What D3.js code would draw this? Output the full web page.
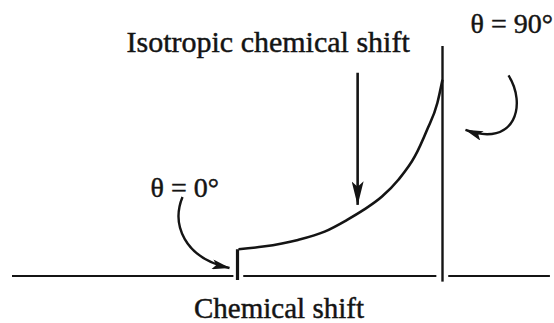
<!DOCTYPE html>
<html>
<head>
<meta charset="utf-8">
<script src="https://cdn.jsdelivr.net/npm/d3@7"></script>
<style>
  html, body { margin: 0; padding: 0; background: #fff; }
  svg { display: block; }
  text { font-family: "Liberation Serif", "Times New Roman", serif; fill: #141414; stroke: #141414; stroke-width: 0.45px; }
</style>
</head>
<body>
<script>
// Axially symmetric chemical-shift powder pattern (arbitrary units).
// Shift runs from the θ = 0° edge (0) to the θ = 90° edge (100).
const shift     = [0, 12, 29, 42, 53, 61, 70, 78, 86, 92, 97, 99.5];
const intensity = [1.0, 1.1, 1.35, 1.66, 2.1, 2.47, 2.97, 3.6, 4.47, 5.47, 6.47, 7.34];

// Vertical edges of the pattern: θ = 0° step and θ = 90° horn
const edgeShift  = [0, 100];
const edgeTop    = [1.0, 8.6];
const edgeBottom = [-0.15, -0.21];

// Baseline pieces (broken where the edges cross it)
const baseStart = [-110, 2.8, 102.8];
const baseEnd   = [-2, 97, 152.4];

// Isotropic shift position and annotation labels
const isoShift  = 58.6;
const isoLabel  = "Isotropic chemical shift";
const axisLabel = "Chemical shift";
const thetaLabels = ["θ = 0°", "θ = 90°"];

const W = 554, H = 323;
const svg = d3.select("body").append("svg").attr("width", W).attr("height", H);

const x = d3.scaleLinear().domain([0, 100]).range([237.5, 442.5]);
const y = d3.scaleLinear().domain([0, 8.6]).range([276, 46]);

const ink = "#141414";

// Arrowhead markers
const defs = svg.append("defs");
function marker(id, len, wid) {
  defs.append("marker")
    .attr("id", id)
    .attr("viewBox", `0 0 ${len} ${wid}`)
    .attr("refX", len - 0.5).attr("refY", wid / 2)
    .attr("markerWidth", len).attr("markerHeight", wid)
    .attr("markerUnits", "userSpaceOnUse")
    .attr("orient", "auto")
    .append("path")
    .attr("d", `M0,0 L${len},${wid / 2} L0,${wid} L${len * 0.22},${wid / 2} Z`)
    .attr("fill", ink);
}
marker("headLong", 24, 12);
marker("headShort", 18, 10);

// Baseline
svg.append("g").selectAll("line")
  .data(d3.range(baseStart.length))
  .join("line")
  .attr("x1", i => x(baseStart[i])).attr("x2", i => x(baseEnd[i]))
  .attr("y1", y(0)).attr("y2", y(0))
  .attr("stroke", ink).attr("stroke-width", 2);

// Pattern edges
svg.append("g").selectAll("line")
  .data(d3.range(edgeShift.length))
  .join("line")
  .attr("x1", i => x(edgeShift[i])).attr("x2", i => x(edgeShift[i]))
  .attr("y1", i => y(edgeBottom[i])).attr("y2", i => y(edgeTop[i]))
  .attr("stroke", ink)
  .attr("stroke-width", (d, i) => i === 0 ? 3.2 : 2.4);

// Powder lineshape
const line = d3.line()
  .x((d, i) => x(shift[i]) + 1)
  .y((d, i) => y(intensity[i]))
  .curve(d3.curveMonotoneX);
svg.append("path")
  .datum(shift)
  .attr("d", line)
  .attr("fill", "none")
  .attr("stroke", ink)
  .attr("stroke-width", 2.6);

// Isotropic shift arrow
svg.append("line")
  .attr("x1", x(isoShift)).attr("x2", x(isoShift))
  .attr("y1", y(7.6)).attr("y2", y(2.66))
  .attr("stroke", ink).attr("stroke-width", 2.6)
  .attr("marker-end", "url(#headLong)");

svg.append("text")
  .attr("x", 126.5).attr("y", 51.7)
  .attr("font-size", 30)
  .text(isoLabel);

// θ = 0° annotation: curved arrow to the step edge
const x0 = x(edgeShift[0]), y0 = y(0);
svg.append("path")
  .attr("d", `M${x0 - 55},${y0 - 79} C${x0 - 66},${y0 - 52} ${x0 - 54},${y0 - 18} ${x0 - 8},${y0 - 8}`)
  .attr("fill", "none").attr("stroke", ink).attr("stroke-width", 2.4)
  .attr("marker-end", "url(#headShort)");

svg.append("text")
  .attr("x", 150.5).attr("y", 196.7)
  .attr("font-size", 28)
  .text(thetaLabels[0]);

// θ = 90° annotation: curved arrow to the horn
const x9 = x(edgeShift[1]);
svg.append("path")
  .attr("d", `M${x9 + 66},${y(7.5)} C${x9 + 84},${y(7.5) + 28} ${x9 + 74},${y(7.5) + 73} ${x9 + 23},${y(5.46)}`)
  .attr("fill", "none").attr("stroke", ink).attr("stroke-width", 2.4)
  .attr("marker-end", "url(#headShort)");

svg.append("text")
  .attr("x", 470.5).attr("y", 33.3)
  .attr("font-size", 28)
  .text(thetaLabels[1]);

// Axis title
svg.append("text")
  .attr("x", 279).attr("y", 318.3)
  .attr("text-anchor", "middle")
  .attr("font-size", 29)
  .text(axisLabel);
</script>
</body>
</html>
